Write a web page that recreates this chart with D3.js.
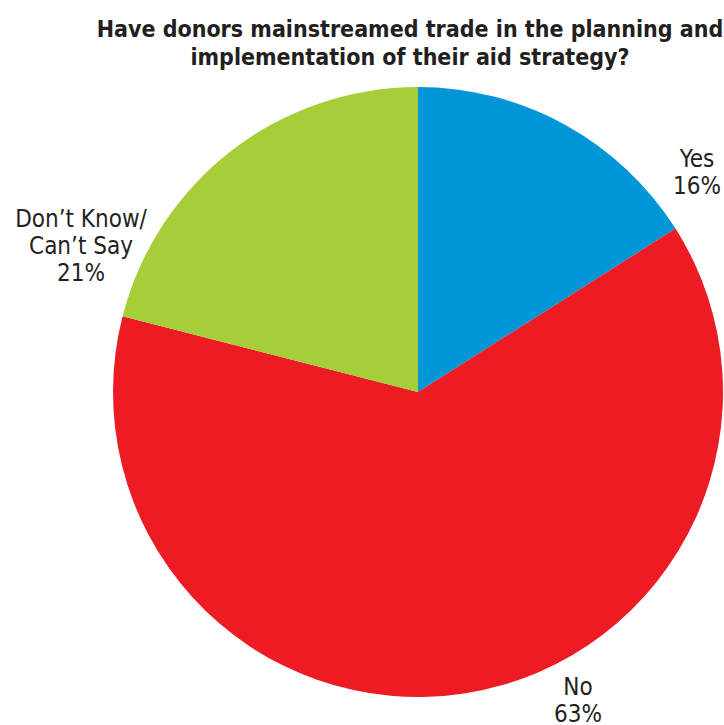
<!DOCTYPE html>
<html>
<head>
<meta charset="utf-8">
<script src="https://cdn.jsdelivr.net/npm/d3@7"></script>
<style>
  html, body { margin: 0; padding: 0; background: #fff; }
  svg { display: block; }
</style>
</head>
<body>
<svg id="chart" width="724" height="725"></svg>
<script>
// Survey responses
const categories = ["Yes", "No", "Don\u2019t Know/Can\u2019t Say"];
const values = [16, 63, 21];
const colors = ["#0096d8", "#ed1c24", "#a6ce39"];
const labelLines = [["Yes", "16%"], ["No", "63%"], ["Don\u2019t Know/", "Can\u2019t Say", "21%"]];
const titleLines = [
  "Have donors mainstreamed trade in the planning and",
  "implementation of their aid strategy?"
];

const svg = d3.select("#chart");
const cx = 418, cy = 392, r = 305;
const font = "'DejaVu Sans Condensed', 'DejaVu Sans', sans-serif";
const textColor = "#231f20";

// Title
svg.append("text")
  .attr("text-anchor", "middle")
  .attr("font-family", font)
  .attr("font-weight", "bold")
  .attr("font-size", 23)
  .attr("fill", textColor)
  .selectAll("tspan").data(titleLines).join("tspan")
  .attr("x", 410)
  .attr("y", (d, i) => 37 + i * 28)
  .text(d => d);

// Pie slices, clockwise from 12 o'clock
const pie = d3.pie().sort(null).value(d => d);
const arcs = pie(values);
const arc = d3.arc().innerRadius(0).outerRadius(r);

const g = svg.append("g").attr("transform", `translate(${cx},${cy})`);
g.selectAll("path").data(arcs).join("path")
  .attr("d", arc)
  .attr("fill", (d, i) => colors[i]);

// Outside labels
const labelPos = [
  { x: 697, y: 167 },
  { x: 578, y: 695 },
  { x: 81, y: 227 }
];
labelPos.forEach((p, i) => {
  const t = svg.append("text")
    .attr("text-anchor", "middle")
    .attr("font-family", font)
    .attr("font-size", 24)
    .attr("fill", textColor);
  labelLines[i].forEach((line, j) => {
    t.append("tspan")
      .attr("x", p.x)
      .attr("y", p.y + j * 27)
      .text(line);
  });
});
</script>
</body>
</html>
